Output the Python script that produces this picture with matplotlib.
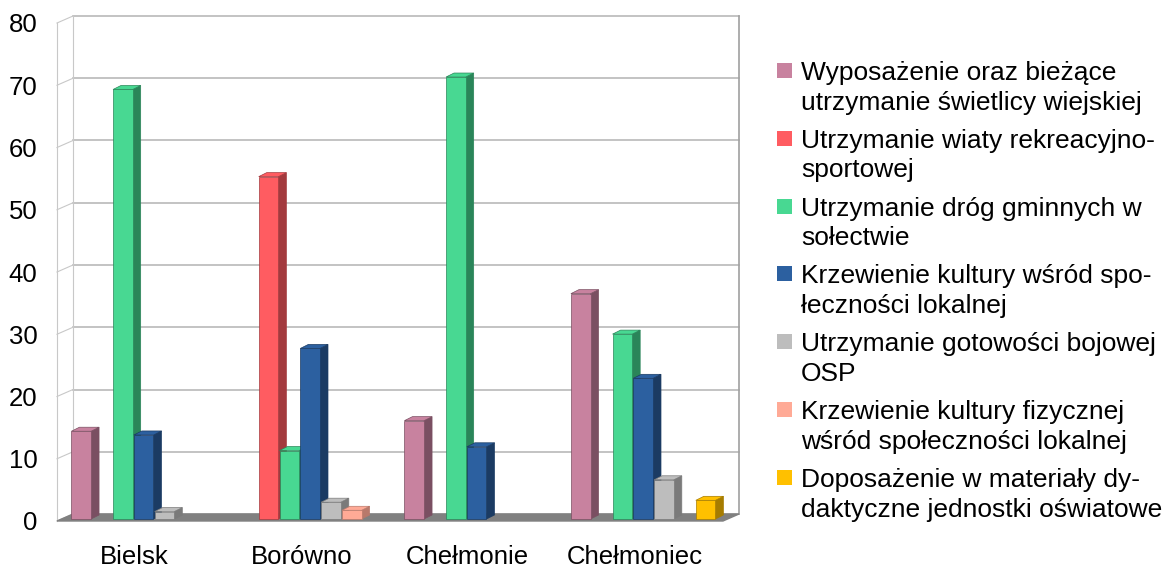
import numpy as np
import matplotlib.pyplot as plt
from matplotlib.patches import Polygon, Rectangle

plt.rcParams['font.family'] = ['Liberation Sans', 'DejaVu Sans']

miejscowosci = ["Bielsk", "Borówno", "Chełmonie", "Chełmoniec"]
kategorie = [
    "Wyposażenie oraz bieżące\nutrzymanie świetlicy wiejskiej",
    "Utrzymanie wiaty rekreacyjno-\nsportowej",
    "Utrzymanie dróg gminnych w\nsołectwie",
    "Krzewienie kultury wśród spo-\nłeczności lokalnej",
    "Utrzymanie gotowości bojowej\nOSP",
    "Krzewienie kultury fizycznej\nwśród społeczności lokalnej",
    "Doposażenie w materiały dy-\ndaktyczne jednostki oświatowe",
]

wyposazenie = [14.1, 0, 15.8, 36.2]
wiata = [0, 55, 0, 0]
drogi = [69, 11, 71, 29.7]
kultura = [13.5, 27.4, 11.6, 22.6]
osp = [1.2, 2.7, 0, 6.3]
sport = [0, 1.4, 0, 0]
dydaktyka = [0, 0, 0, 3]

serie = [wyposazenie, wiata, drogi, kultura, osp, sport, dydaktyka]
kolory = ["#c8829f", "#ff5c61", "#48d892", "#2c60a0", "#bdbdbd", "#ffaa96", "#ffc000"]
boki = ["#7a4f62", "#a33a3e", "#2a8559", "#1b3b63", "#7a7a7a", "#b8796b", "#a67c00"]

W_PX, H_PX = 1163, 570
# 1 px w jednostkach danych
XPX = 4 / 666
YPX = 80 / 498

fig = plt.figure(figsize=(W_PX / 100, H_PX / 100), dpi=100)
ax = fig.add_axes([57 / W_PX, 49 / H_PX, 666 / W_PX, 498 / H_PX])
ax.set_xlim(-0.5, 3.5)
ax.set_ylim(0, 80)
ax.patch.set_alpha(0)
for s in ax.spines.values():
    s.set_visible(False)

# sciany (efekt 3D)
WX, WY = 16 * XPX, 7 * YPX
x0, x1 = -0.5, 3.5
for v in range(0, 90, 10):
    ax.plot([x0 + WX, x1 + WX], [v + WY, v + WY], color="#b3b3b3", lw=1.1, clip_on=False, zorder=1)
    ax.plot([x0, x0 + WX], [v, v + WY], color="#c8c8c8", lw=0.8, clip_on=False, zorder=1)
ax.plot([x0, x0], [0, 80], color="#c8c8c8", lw=0.8, clip_on=False, zorder=1)
ax.plot([x0 + WX, x0 + WX], [WY, 80 + WY], color="#c8c8c8", lw=0.8, clip_on=False, zorder=1)
ax.plot([x1 + WX, x1 + WX], [WY, 80 + WY], color="#a0a0a0", lw=1.2, clip_on=False, zorder=1)
ax.add_patch(Polygon([(x0, 0), (x1, 0), (x1 + WX, WY), (x0 + WX, WY)],
                     closed=True, color="#808080", clip_on=False, zorder=2))

# slupki
slot = 0.125
w = 0.118
DX, DY = 4 * XPX, 2 * YPX
SX, SY = 8 * XPX, 4 * YPX
for i, vals in enumerate(serie):
    vals = np.array(vals, dtype=float)
    xs = np.arange(len(miejscowosci)) - 0.5 + slot / 2 + i * slot + DX
    m = vals > 0
    z = 3 + i * 0.1
    ax.bar(xs[m], vals[m], width=w, bottom=DY, align="edge", color=kolory[i],
           edgecolor=boki[i], lw=0.5, zorder=z + 0.05, clip_on=False)
    for x, v in zip(xs[m], vals[m]):
        top = DY + v
        ax.add_patch(Polygon([(x + w, DY), (x + w + SX, DY + SY), (x + w + SX, top + SY), (x + w, top)],
                             closed=True, facecolor=boki[i], edgecolor=boki[i], lw=0.5, zorder=z, clip_on=False))
        ax.add_patch(Polygon([(x, top), (x + SX, top + SY), (x + w + SX, top + SY), (x + w, top)],
                             closed=True, facecolor=kolory[i], edgecolor=boki[i], lw=0.5, zorder=z, clip_on=False))

ax.set_yticks(range(0, 90, 10))
ax.set_xticks(np.arange(len(miejscowosci)) - 5.5 * XPX)
ax.set_xticklabels(miejscowosci)
ax.tick_params(axis="y", length=0, pad=14, labelsize=18.5)
ax.tick_params(axis="x", length=0, pad=17, labelsize=18.5)

# legenda (znacznik przy pierwszej linii opisu)
for k, (nazwa, kol) in enumerate(zip(kategorie, kolory)):
    y = 63 + 67.8 * k
    fig.add_artist(Rectangle((777 / W_PX, 1 - (y + 15) / H_PX), 15 / W_PX, 15 / H_PX,
                             transform=fig.transFigure, facecolor=kol, edgecolor="none"))
    fig.text(801 / W_PX, 1 - (y - 2) / H_PX, nazwa, fontsize=19, va="top", ha="left",
             linespacing=1.3)

fig.savefig("out.png", dpi=100)
